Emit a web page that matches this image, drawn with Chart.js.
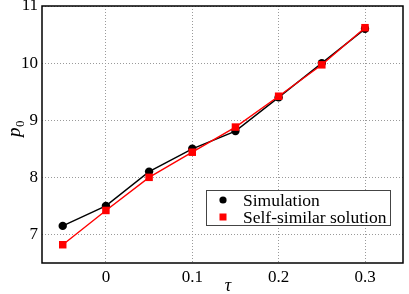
<!DOCTYPE html>
<html>
<head>
<meta charset="utf-8">
<script src="https://cdn.jsdelivr.net/npm/chart.js@4.4.0/dist/chart.umd.min.js"></script>
<style>
    html, body { margin: 0; padding: 0; background: #fff; }
    #wrap { width: 409px; height: 294px; position: relative; }
</style>
</head>
<body>
<div id="wrap"><canvas id="myChart" width="409" height="294"></canvas></div>
<script>
const tauValues = [-0.05, 0, 0.05, 0.1, 0.15, 0.2, 0.25, 0.3];
const simValues = [7.15, 7.5, 8.1, 8.5, 8.81, 9.4, 10.0, 10.6];
const selfSimValues = [6.82, 7.42, 8.0, 8.44, 8.88, 9.42, 9.97, 10.62];
const xTicks = [0, 0.1, 0.2, 0.3];
const yTicks = [7, 8, 9, 10, 11];
const seriesNames = ["Simulation", "Self-similar solution"];

const serif = "'Liberation Serif', 'DejaVu Serif', serif";

function toPoints(xs, ys) {
    return xs.map((x, i) => ({ x: x, y: ys[i] }));
}

// frame, axis titles and the legend box inside the plot
const decorations = {
    id: 'decorations',
    afterDraw(chart) {
        const ctx = chart.ctx;
        const area = chart.chartArea;
        ctx.save();
        ctx.strokeStyle = '#000';
        ctx.lineWidth = 1.5;
        ctx.strokeRect(area.left, area.top, area.right - area.left, area.bottom - area.top);

        // y title: p with subscript 0
        ctx.fillStyle = '#000';
        ctx.translate(20, 128);
        ctx.rotate(-Math.PI / 2);
        ctx.textBaseline = 'alphabetic';
        ctx.textAlign = 'left';
        ctx.font = "italic 19px " + serif;
        ctx.fillText('p', -9, 0);
        ctx.font = "13px " + serif;
        ctx.fillText('0', 1, 4);
        ctx.setTransform(1, 0, 0, 1, 0, 0);

        // x title
        ctx.font = "italic 18px " + serif;
        ctx.textAlign = 'center';
        ctx.fillText('\u03c4', 228, 291);

        // legend
        const lx = 206, ly = 190, lw = 184, lh = 35;
        ctx.fillStyle = '#fff';
        ctx.fillRect(lx, ly, lw, lh);
        ctx.strokeStyle = '#444';
        ctx.lineWidth = 1;
        ctx.strokeRect(lx + 0.5, ly + 0.5, lw, lh);
        const sets = chart.data.datasets;
        const rows = [200, 217];
        ctx.font = "17.5px " + serif;
        ctx.textAlign = 'left';
        ctx.textBaseline = 'middle';
        for (let i = 0; i < sets.length; i++) {
            const ds = sets[i];
            ctx.fillStyle = ds.pointBackgroundColor;
            if (ds.pointStyle === 'rect') {
                ctx.fillRect(223 - 3.5, rows[i] - 3.5, 7, 7);
            } else {
                ctx.beginPath();
                ctx.arc(223, rows[i], 3.6, 0, Math.PI * 2);
                ctx.fill();
            }
            ctx.fillStyle = '#000';
            ctx.fillText(ds.label, 243, rows[i] + 1);
        }
        ctx.restore();
    }
};

const myChart = new Chart("myChart", {
    type: "scatter",
    data: {
        datasets: [{
            label: seriesNames[0],
            data: toPoints(tauValues, simValues),
            showLine: true,
            borderColor: '#000',
            borderWidth: 1.4,
            pointStyle: 'circle',
            pointRadius: 4.2,
            pointBackgroundColor: '#000',
            pointBorderColor: '#000',
            pointBorderWidth: 0,
            order: 2
        }, {
            label: seriesNames[1],
            data: toPoints(tauValues, selfSimValues),
            showLine: true,
            borderColor: '#ff0000',
            borderWidth: 1.4,
            pointStyle: 'rect',
            pointRadius: 5.3,
            pointBackgroundColor: '#ff0000',
            pointBorderColor: '#ff0000',
            pointBorderWidth: 0,
            order: 1
        }]
    },
    options: {
        responsive: false,
        animation: false,
        events: [],
        layout: { padding: { top: 6, right: 6, left: 0, bottom: 0 } },
        plugins: {
            legend: { display: false },
            tooltip: { enabled: false }
        },
        scales: {
            x: {
                type: 'linear',
                min: -0.074,
                max: 0.344,
                afterBuildTicks: (scale) => { scale.ticks = xTicks.map(v => ({ value: v })); },
                afterFit: (scale) => {
                    scale.height = 31;
                    scale.paddingLeft = 0;
                    scale.paddingRight = 0;
                },
                grid: { color: '#9a9a9a', lineWidth: 1, drawTicks: false },
                border: { display: false, dash: [1, 2] },
                ticks: {
                    padding: 4,
                    color: '#000',
                    font: { family: serif, size: 17 },
                    callback: (v) => v === 0 ? '0' : String(v)
                }
            },
            y: {
                min: 6.5,
                max: 11,
                afterBuildTicks: (scale) => { scale.ticks = yTicks.map(v => ({ value: v })); },
                afterFit: (scale) => {
                    scale.width = 42;
                    scale.paddingTop = 0;
                    scale.paddingBottom = 0;
                },
                grid: { color: '#9a9a9a', lineWidth: 1, drawTicks: false },
                border: { display: false, dash: [1, 2] },
                ticks: {
                    padding: 4,
                    color: '#000',
                    font: { family: serif, size: 17 }
                }
            }
        }
    },
    plugins: [decorations]
});
</script>
</body>
</html>
